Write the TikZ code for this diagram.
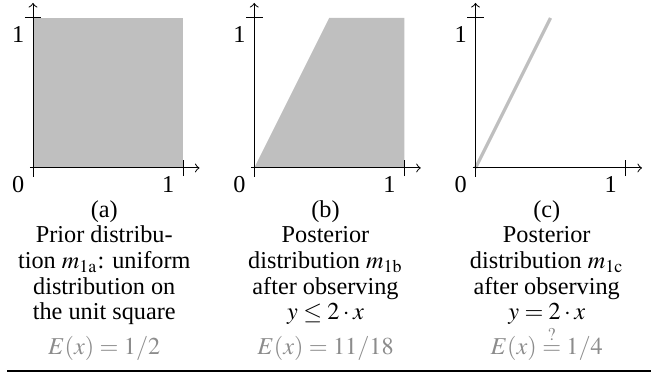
\documentclass[tikz,border=0pt]{standalone}
\usepackage{mathptmx}
\usepackage[no-math]{fontspec}
\setmainfont{Liberation Serif}
\usepackage{xcolor}
\usepackage{tikz}
\usetikzlibrary{positioning}

\begin{document}
\begin{tikzpicture}[x=60pt, y=60pt, every node/.style={font=\fontsize{9.7}{10.25}\selectfont}]
    \tikzset{region/.style={fill=black!25}, caption/.style={align=center, anchor=north, inner sep=0pt}}
    \useasboundingbox (-0.22,-1.3667) rectangle (4.12,1.12);
    % shaded regions
    \fill[region] (0,0) rectangle (1,1);
    \fill[region] (1.475,0) -- (1.975,1) -- (2.475,1) -- (2.475,0) -- cycle;
    \draw[black!25, line width=1.3pt] (2.95,0) -- (3.45,1);
    % axes of the three panels
    \foreach \s/\n in {0/a, 1.475/b, 2.95/c} {
      \draw[->] (\s-0.02,0) -- (\s+1.11,0);
      \draw[->] (\s,-0.06) -- (\s,1.1);
      \draw (\s+1,-0.055) -- (\s+1,0.055);
      \draw (\s-0.055,1) -- (\s+0.055,1);
      \node[below left] (zero\n) at (\s,0) {0};
      \node[below left] (onex\n) at (\s+1,0) {1};
      \node[below left] (oney\n) at (\s,1) {1};
    }
    \node[caption] (capa) at (0.475,-0.213) {(a)\\Prior distribu-\\tion $m_{\mathrm{1a}}$: uniform\\distribution on\\the unit square\\[3.5pt]\textcolor{black!45}{$E(x)=1/2$}};
    \node[caption] (capb) at (1.95,-0.213) {(b)\\Posterior\\distribution $m_{\mathrm{1b}}$\\after observing\\$y\le 2\cdot x$\\[3.5pt]\textcolor{black!45}{$E(x)=11/18$}};
    \node[caption] (capc) at (3.425,-0.213) {(c)\\Posterior\\distribution $m_{\mathrm{1c}}$\\after observing\\$y=2\cdot x$\\[3.5pt]\textcolor{black!45}{$E(x)\mathrel{\smash{\stackrel{?}{=}}}1/4$}};
    \draw[line width=0.7pt] (-0.173,-1.353) -- (4.12,-1.353);
\end{tikzpicture}
\end{document}
